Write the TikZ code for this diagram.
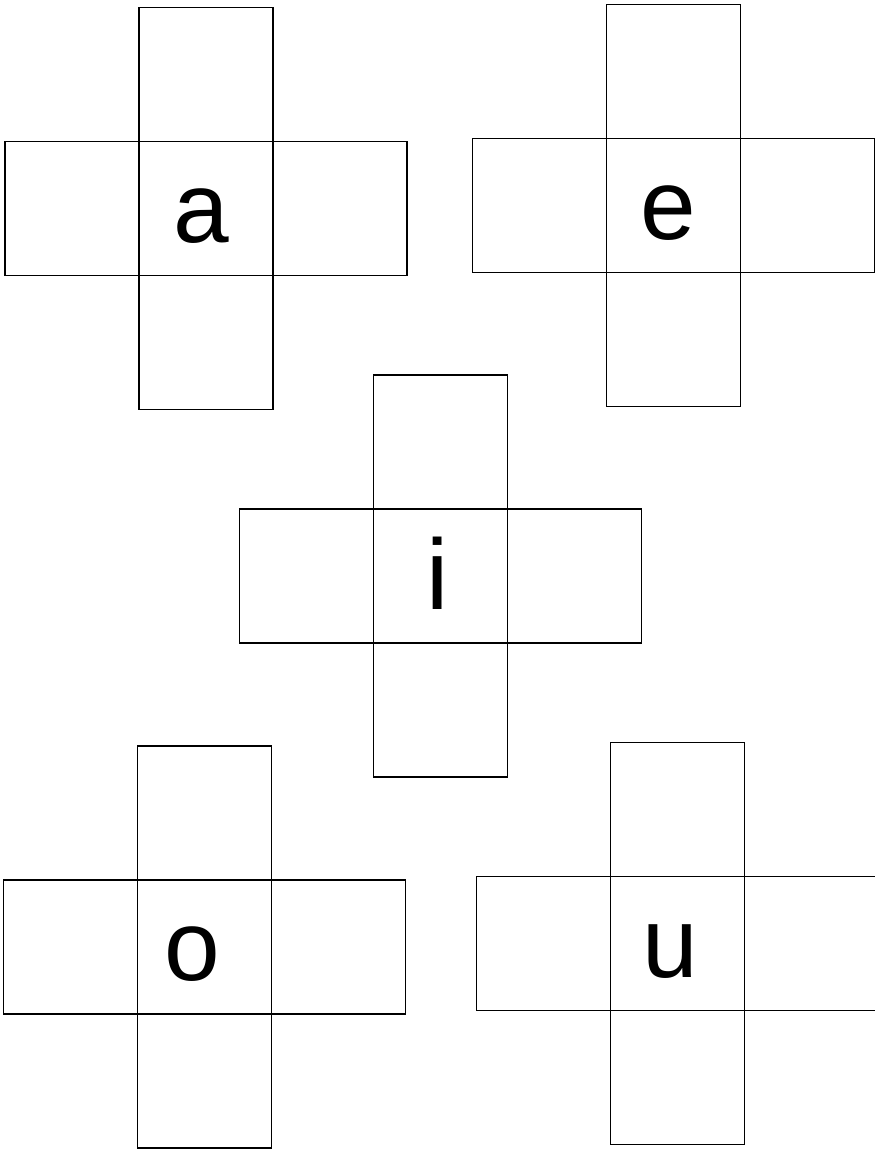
\documentclass[tikz,border=0pt]{standalone}
\usepackage{fontspec}
\setmainfont{Liberation Sans}
\usepackage{tikz}
\usetikzlibrary{positioning,calc}
\tikzset{
  cell/.style={draw,line width=1.7pt,minimum size=134pt,inner sep=0pt,outer sep=0pt},
  vowel/.style={font=\fontsize{100}{100}\selectfont,anchor=base,inner sep=0pt}
}
\begin{document}
\begin{tikzpicture}[x=1pt,y=1pt]
  \useasboundingbox (0,0) rectangle (875,1151);
  \foreach \v/\cx/\cy/\dx in {a/206/942.5/-5, e/673.5/945.5/-5, i/440.5/575/-3, o/204.5/204/-12, u/677.5/207.5/-7}{
    \node[cell] (\v-mid) at (\cx,\cy){};
    \node[cell,above=0pt of \v-mid] (\v-up){};
    \node[cell,below=0pt of \v-mid] (\v-down){};
    \node[cell,left=0pt of \v-mid] (\v-left){};
    \node[cell,right=0pt of \v-mid] (\v-right){};
    \node[vowel] (\v-txt) at ($(\v-mid.south)+(\dx,33)$){\v};
  }
\end{tikzpicture}
\end{document}
